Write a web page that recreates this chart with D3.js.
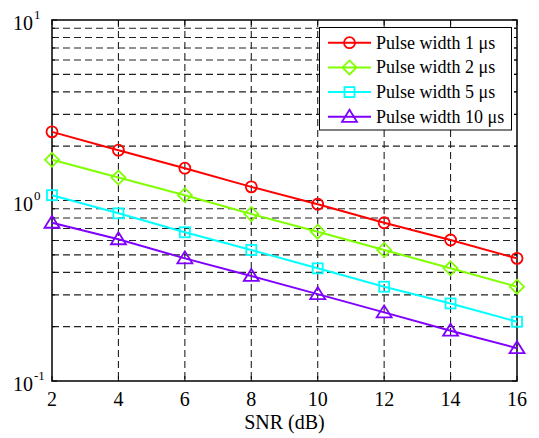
<!DOCTYPE html>
<html>
<head>
<meta charset="utf-8">
<script src="https://cdn.jsdelivr.net/npm/d3@7"></script>
<style>
body { margin: 0; background: #fff; }
text { font-family: "Times New Roman", "Liberation Serif", Times, serif; fill: #000; }
</style>
</head>
<body>
<svg id="chart" width="539" height="438"></svg>
<script>
// data
var snr = [2, 4, 6, 8, 10, 12, 14, 16];
var pw1 = [2.40, 1.90, 1.51, 1.19, 0.953, 0.753, 0.604, 0.478];
var pw2 = [1.68, 1.34, 1.07, 0.842, 0.672, 0.532, 0.421, 0.333];
var pw5 = [1.07, 0.849, 0.667, 0.532, 0.421, 0.333, 0.269, 0.213];
var pw10 = [0.753, 0.61, 0.478, 0.382, 0.303, 0.240, 0.190, 0.152];
var seriesNames = ["Pulse width 1 \u03bcs", "Pulse width 2 \u03bcs", "Pulse width 5 \u03bcs", "Pulse width 10 \u03bcs"];
var xTicks = [2, 4, 6, 8, 10, 12, 14, 16];
var yDecades = [-1, 0, 1];

var colors = ["#ff0000", "#80ff00", "#00ffff", "#8000ff"];
var markers = ["circle", "diamond", "square", "triangle"];
var allSeries = [pw1, pw2, pw5, pw10];

var L = 52, R = 517, T = 20, B = 381;
var svg = d3.select("#chart");

var x = d3.scaleLinear().domain([2, 16]).range([L, R]);
var y = d3.scaleLog().domain([0.1, 10]).range([B, T]);

// minor log values for the grid
var minor = [];
[-1, 0].forEach(function (k) {
    for (var m = 1; m <= 9; m++) minor.push(m * Math.pow(10, k));
});
minor.push(10);

var grid = svg.append("g");
grid.selectAll("line.h").data(minor.filter(function (v) { return v > 0.1 && v < 10; }))
    .enter().append("line")
    .attr("x1", L).attr("x2", R)
    .attr("y1", function (d) { return y(d); }).attr("y2", function (d) { return y(d); })
    .attr("stroke", "#222").attr("stroke-width", 1.1).attr("stroke-dasharray", "7,4");
grid.selectAll("line.v").data(xTicks.slice(1, -1))
    .enter().append("line")
    .attr("y1", T).attr("y2", B)
    .attr("x1", function (d) { return x(d); }).attr("x2", function (d) { return x(d); })
    .attr("stroke", "#222").attr("stroke-width", 1.1).attr("stroke-dasharray", "7,4");

// ticks, inside, all four sides
var ticks = svg.append("g").attr("stroke", "#000").attr("stroke-width", 1);
xTicks.forEach(function (d) {
    ticks.append("line").attr("x1", x(d)).attr("x2", x(d)).attr("y1", B).attr("y2", B - 5);
    ticks.append("line").attr("x1", x(d)).attr("x2", x(d)).attr("y1", T).attr("y2", T + 5);
});
minor.forEach(function (v) {
    var len = (Math.abs(Math.log10(v) - Math.round(Math.log10(v))) < 1e-9) ? 5 : 3;
    ticks.append("line").attr("x1", L).attr("x2", L + len).attr("y1", y(v)).attr("y2", y(v));
    ticks.append("line").attr("x1", R).attr("x2", R - len).attr("y1", y(v)).attr("y2", y(v));
});

// box
svg.append("rect").attr("x", L).attr("y", T).attr("width", R - L).attr("height", B - T)
    .attr("fill", "none").attr("stroke", "#000").attr("stroke-width", 1.5);

// tick labels
svg.append("g").selectAll("text").data(xTicks).enter().append("text")
    .attr("x", function (d) { return x(d); }).attr("y", 406)
    .attr("text-anchor", "middle").attr("font-size", 20)
    .text(function (d) { return d; });

var yl = svg.append("g");
yDecades.forEach(function (k) {
    var yy = y(Math.pow(10, k));
    yl.append("text").attr("x", 33).attr("y", yy + 10).attr("text-anchor", "end")
        .attr("font-size", 20).text("10");
    yl.append("text").attr("x", 34).attr("y", yy - 1).attr("font-size", 13).text(k);
});

svg.append("text").attr("x", (L + R) / 2).attr("y", 429).attr("text-anchor", "middle")
    .attr("font-size", 20).text("SNR (dB)");

// marker shapes
function drawMarker(g, type, cx, cy, color) {
    var s;
    if (type === "circle") {
        s = g.append("circle").attr("cx", cx).attr("cy", cy).attr("r", 5.5);
    } else if (type === "diamond") {
        s = g.append("path").attr("d", "M" + cx + "," + (cy - 7) + "L" + (cx + 7) + "," + cy +
            "L" + cx + "," + (cy + 7) + "L" + (cx - 7) + "," + cy + "Z");
    } else if (type === "square") {
        s = g.append("rect").attr("x", cx - 5).attr("y", cy - 5).attr("width", 10).attr("height", 10);
    } else {
        s = g.append("path").attr("d", "M" + cx + "," + (cy - 7) + "L" + (cx + 7.5) + "," + (cy + 5) +
            "L" + (cx - 7.5) + "," + (cy + 5) + "Z");
    }
    s.attr("fill", "none").attr("stroke", color).attr("stroke-width", 1.8);
}

var line = d3.line().x(function (d, i) { return x(snr[i]); }).y(function (d) { return y(d); });

allSeries.forEach(function (vals, si) {
    var g = svg.append("g");
    g.append("path").datum(vals).attr("d", line)
        .attr("fill", "none").attr("stroke", colors[si]).attr("stroke-width", 2);
    vals.forEach(function (v, i) { drawMarker(g, markers[si], x(snr[i]), y(v), colors[si]); });
});

// legend
var lg = svg.append("g");
lg.append("rect").attr("x", 319.5).attr("y", 27.5).attr("width", 192).attr("height", 102.5)
    .attr("fill", "#fff").attr("stroke", "#000").attr("stroke-width", 1);
seriesNames.forEach(function (name, i) {
    var ly = 42.7 + i * 24.7;
    lg.append("line").attr("x1", 328).attr("x2", 371).attr("y1", ly).attr("y2", ly)
        .attr("stroke", colors[i]).attr("stroke-width", 2);
    drawMarker(lg, markers[i], 349.5, ly, colors[i]);
    lg.append("text").attr("x", 376).attr("y", ly + 6).attr("font-size", 18).text(name);
});
</script>
</body>
</html>
